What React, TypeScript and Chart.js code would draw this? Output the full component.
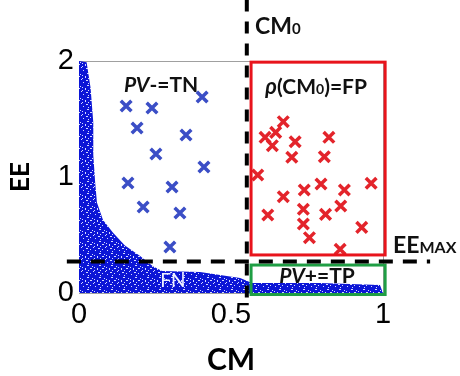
import { useEffect, useRef } from "react";
import { Chart, registerables } from "chart.js";

Chart.register(...registerables);

// Axis ticks
const CM_TICKS = [0, 0.5, 1];
const EE_TICKS = [0, 1, 2];

// Decision thresholds
const CM0 = 0.552;
const EE_MAX = 0.272;

// Upper envelope of the dense cloud of cases (CM, EE)
const CLOUD_CM = [0, 0.025, 0.038, 0.047, 0.047, 0.053, 0.059, 0.079, 0.112, 0.151, 0.201, 0.243, 0.273, 0.398, 0.53, 0.569, 0.793, 0.99, 1.0];
const CLOUD_EE = [2.0, 1.99, 1.77, 1.47, 1.19, 0.96, 0.78, 0.63, 0.52, 0.41, 0.32, 0.23, 0.19, 0.18, 0.13, 0.086, 0.086, 0.069, 0.0];

// Negative cases above EE_MAX (blue crosses)
const NEG_CM = [0.155, 0.24, 0.405, 0.191, 0.352, 0.253, 0.411, 0.161, 0.306, 0.211, 0.332, 0.299];
const NEG_EE = [1.612, 1.595, 1.69, 1.422, 1.362, 1.198, 1.086, 0.948, 0.914, 0.741, 0.69, 0.397];

// False positives (red crosses)
const FP_CM = [0.672, 0.612, 0.647, 0.636, 0.711, 0.822, 0.7, 0.807, 0.588, 0.672, 0.741, 0.796, 0.873, 0.961, 0.621, 0.738, 0.738, 0.811, 0.861, 0.93, 0.758, 0.859];
const FP_EE = [1.477, 1.342, 1.385, 1.27, 1.304, 1.342, 1.17, 1.175, 1.017, 0.83, 0.888, 0.94, 0.888, 0.946, 0.672, 0.722, 0.595, 0.678, 0.75, 0.566, 0.477, 0.377];

const SANS = "'Liberation Sans', Arial, sans-serif";
const HUMAN = "Lato, 'Open Sans', sans-serif";

// Region frames, in data units
const REGIONS = [
  { x0: 0.566, x1: 1.007, y0: 0.328, y1: 1.99, color: "#e8141c" },
  { x0: 0.566, x1: 1.007, y0: -0.013, y1: 0.241, color: "#1f9e44" },
];

// Threshold line extents, in data units
const CM0_SPAN = [-0.08, 2.53];
const EEMAX_SPAN = [-0.04, 1.155];

type Part = { t: string; size?: number; italic?: boolean; bold?: boolean };
type Label = { cm: number; ee: number; align: "center" | "left"; color?: string; parts: Part[] };

const LABELS: Label[] = [
  { cm: 0.27, ee: 1.733, align: "center", parts: [{ t: "PV", italic: true }, { t: "-=TN" }] },
  { cm: 0.78, ee: 1.716, align: "center", parts: [{ t: "ρ", italic: true, size: 22 }, { t: "(CM" }, { t: "0", size: 14 }, { t: ")=FP" }] },
  { cm: 0.579, ee: 2.233, align: "left", parts: [{ t: "CM", size: 23 }, { t: "0", size: 15 }] },
  { cm: 1.033, ee: 0.345, align: "left", parts: [{ t: "EE", size: 23 }, { t: "MAX", size: 16 }] },
  { cm: 0.783, ee: 0.086, align: "center", parts: [{ t: "PV", italic: true }, { t: "+=TP" }] },
  { cm: 0.309, ee: 0.052, align: "center", color: "#eef0ff", parts: [{ t: "FN", size: 19, bold: false }] },
];

// Texture tile for the cloud fill
const SPECKLE = [
  "............",
  "...xx.......",
  "........x...",
  "..........x.",
  ".x....xx....",
  ".x..........",
  "....x.....x.",
  ".........x..",
  "..xx........",
  "......x.....",
  "...........x",
  "....x.......",
];

function cloudPattern(ctx: CanvasRenderingContext2D): CanvasPattern | string {
  const tile = document.createElement("canvas");
  tile.width = SPECKLE[0].length;
  tile.height = SPECKLE.length;
  const t = tile.getContext("2d");
  if (!t) return "#0a14d8";
  t.fillStyle = "#0c16d6";
  t.fillRect(0, 0, tile.width, tile.height);
  t.fillStyle = "#d4d8ff";
  SPECKLE.forEach((row, y) => {
    for (let x = 0; x < row.length; x++) if (row[x] === "x") t.fillRect(x, y, 1, 1);
  });
  return ctx.createPattern(tile, "repeat") || "#0a14d8";
}

const overlay = {
  id: "overlay",
  beforeDatasetsDraw(chart: any) {
    const { ctx, chartArea: a } = chart;
    ctx.save();
    ctx.strokeStyle = "#a0a0a0";
    ctx.lineWidth = 1;
    ctx.strokeRect(a.left + 0.5, a.top + 0.5, a.right - a.left, a.bottom - a.top);
    ctx.restore();
  },
  afterDatasetsDraw(chart: any) {
    const { ctx } = chart;
    const xs = chart.scales.x;
    const ys = chart.scales.y;
    ctx.save();

    // region frames
    ctx.lineWidth = 3;
    REGIONS.forEach((r) => {
      const x0 = xs.getPixelForValue(r.x0);
      const x1 = xs.getPixelForValue(r.x1);
      const y0 = ys.getPixelForValue(r.y0);
      const y1 = ys.getPixelForValue(r.y1);
      ctx.strokeStyle = r.color;
      ctx.strokeRect(x0, y1, x1 - x0, y0 - y1);
    });

    // threshold lines
    ctx.strokeStyle = "#000";
    ctx.lineWidth = 4;
    ctx.setLineDash([12, 10]);
    const vx = xs.getPixelForValue(CM0);
    ctx.beginPath();
    ctx.moveTo(vx, ys.getPixelForValue(CM0_SPAN[1]));
    ctx.lineTo(vx, ys.getPixelForValue(CM0_SPAN[0]));
    ctx.stroke();
    ctx.setLineDash([14, 10]);
    const hy = ys.getPixelForValue(EE_MAX);
    ctx.beginPath();
    ctx.moveTo(xs.getPixelForValue(EEMAX_SPAN[0]), hy);
    ctx.lineTo(xs.getPixelForValue(EEMAX_SPAN[1]), hy);
    ctx.stroke();
    ctx.setLineDash([]);

    // labels
    ctx.textBaseline = "alphabetic";
    ctx.textAlign = "left";
    LABELS.forEach((l) => {
      const fonts = l.parts.map(
        (p) => `${p.italic ? "italic " : ""}${p.bold === false ? "" : "bold "}${p.size || 21}px ${HUMAN}`
      );
      let w = 0;
      const widths = l.parts.map((p, i) => {
        ctx.font = fonts[i];
        const m = ctx.measureText(p.t).width;
        w += m;
        return m;
      });
      let x = xs.getPixelForValue(l.cm);
      if (l.align === "center") x -= w / 2;
      const y = ys.getPixelForValue(l.ee);
      ctx.fillStyle = l.color || "#111";
      l.parts.forEach((p, i) => {
        ctx.font = fonts[i];
        ctx.fillText(p.t, x, y);
        x += widths[i];
      });
    });
    ctx.restore();
  },
};

export default function App() {
  const ref = useRef<HTMLCanvasElement>(null);

  useEffect(() => {
    const canvas = ref.current;
    if (!canvas) return;
    const ctx = canvas.getContext("2d");
    if (!ctx) return;
    const fillPattern = cloudPattern(ctx);

    const chart = new Chart(ctx, {
      type: "scatter",
      data: {
        datasets: [
          {
            type: "line",
            data: CLOUD_CM.map((x, i) => ({ x, y: CLOUD_EE[i] })),
            borderWidth: 0,
            borderColor: "rgba(0,0,0,0)",
            pointRadius: 0,
            fill: "origin",
            backgroundColor: fillPattern as any,
            tension: 0,
            order: 3,
          } as any,
          {
            data: NEG_CM.map((x, i) => ({ x, y: NEG_EE[i] })),
            pointStyle: "crossRot",
            pointRadius: 7.5,
            borderWidth: 3.5,
            borderColor: "#3b4ec6",
            backgroundColor: "#3b4ec6",
            order: 1,
          },
          {
            data: FP_CM.map((x, i) => ({ x, y: FP_EE[i] })),
            pointStyle: "crossRot",
            pointRadius: 7.5,
            borderWidth: 3.5,
            borderColor: "#e3242b",
            backgroundColor: "#e3242b",
            order: 1,
          },
        ],
      },
      options: {
        animation: false,
        responsive: false,
        layout: { padding: { left: 0, top: 61, right: 77, bottom: 0 } },
        plugins: { legend: { display: false }, tooltip: { enabled: false } },
        scales: {
          x: {
            type: "linear",
            min: 0,
            max: 1,
            afterBuildTicks: (s: any) => {
              s.ticks = CM_TICKS.map((value) => ({ value }));
            },
            afterFit: (s: any) => {
              s.height = 83;
            },
            grid: { display: false, drawTicks: false },
            border: { display: false },
            ticks: {
              autoSkip: false,
              maxRotation: 0,
              padding: 5,
              color: "#000",
              font: { family: SANS, size: 29 },
              callback: (v: any) => String(v),
            },
            title: {
              display: true,
              text: "CM",
              color: "#000",
              font: { family: HUMAN, size: 30, weight: "bold" },
              padding: { top: 0, bottom: -2 },
            },
          },
          y: {
            type: "linear",
            min: 0,
            max: 2,
            afterBuildTicks: (s: any) => {
              s.ticks = EE_TICKS.map((value) => ({ value }));
            },
            afterFit: (s: any) => {
              s.width = 79;
            },
            grid: { display: false, drawTicks: false },
            border: { display: false },
            ticks: {
              autoSkip: false,
              padding: 5,
              color: "#000",
              font: { family: SANS, size: 29 },
              callback: (v: any) => String(v),
            },
            title: {
              display: true,
              text: "EE",
              color: "#000",
              font: { family: HUMAN, size: 26, weight: "bold" },
              padding: { top: 5, bottom: 0 },
            },
          },
        },
      },
      plugins: [overlay],
    });

    return () => chart.destroy();
  }, []);

  return (
    <div style={{ position: "absolute", left: 0, top: 0, width: 460, height: 376, background: "#fff" }}>
      <canvas ref={ref} width={460} height={376} />
    </div>
  );
}
